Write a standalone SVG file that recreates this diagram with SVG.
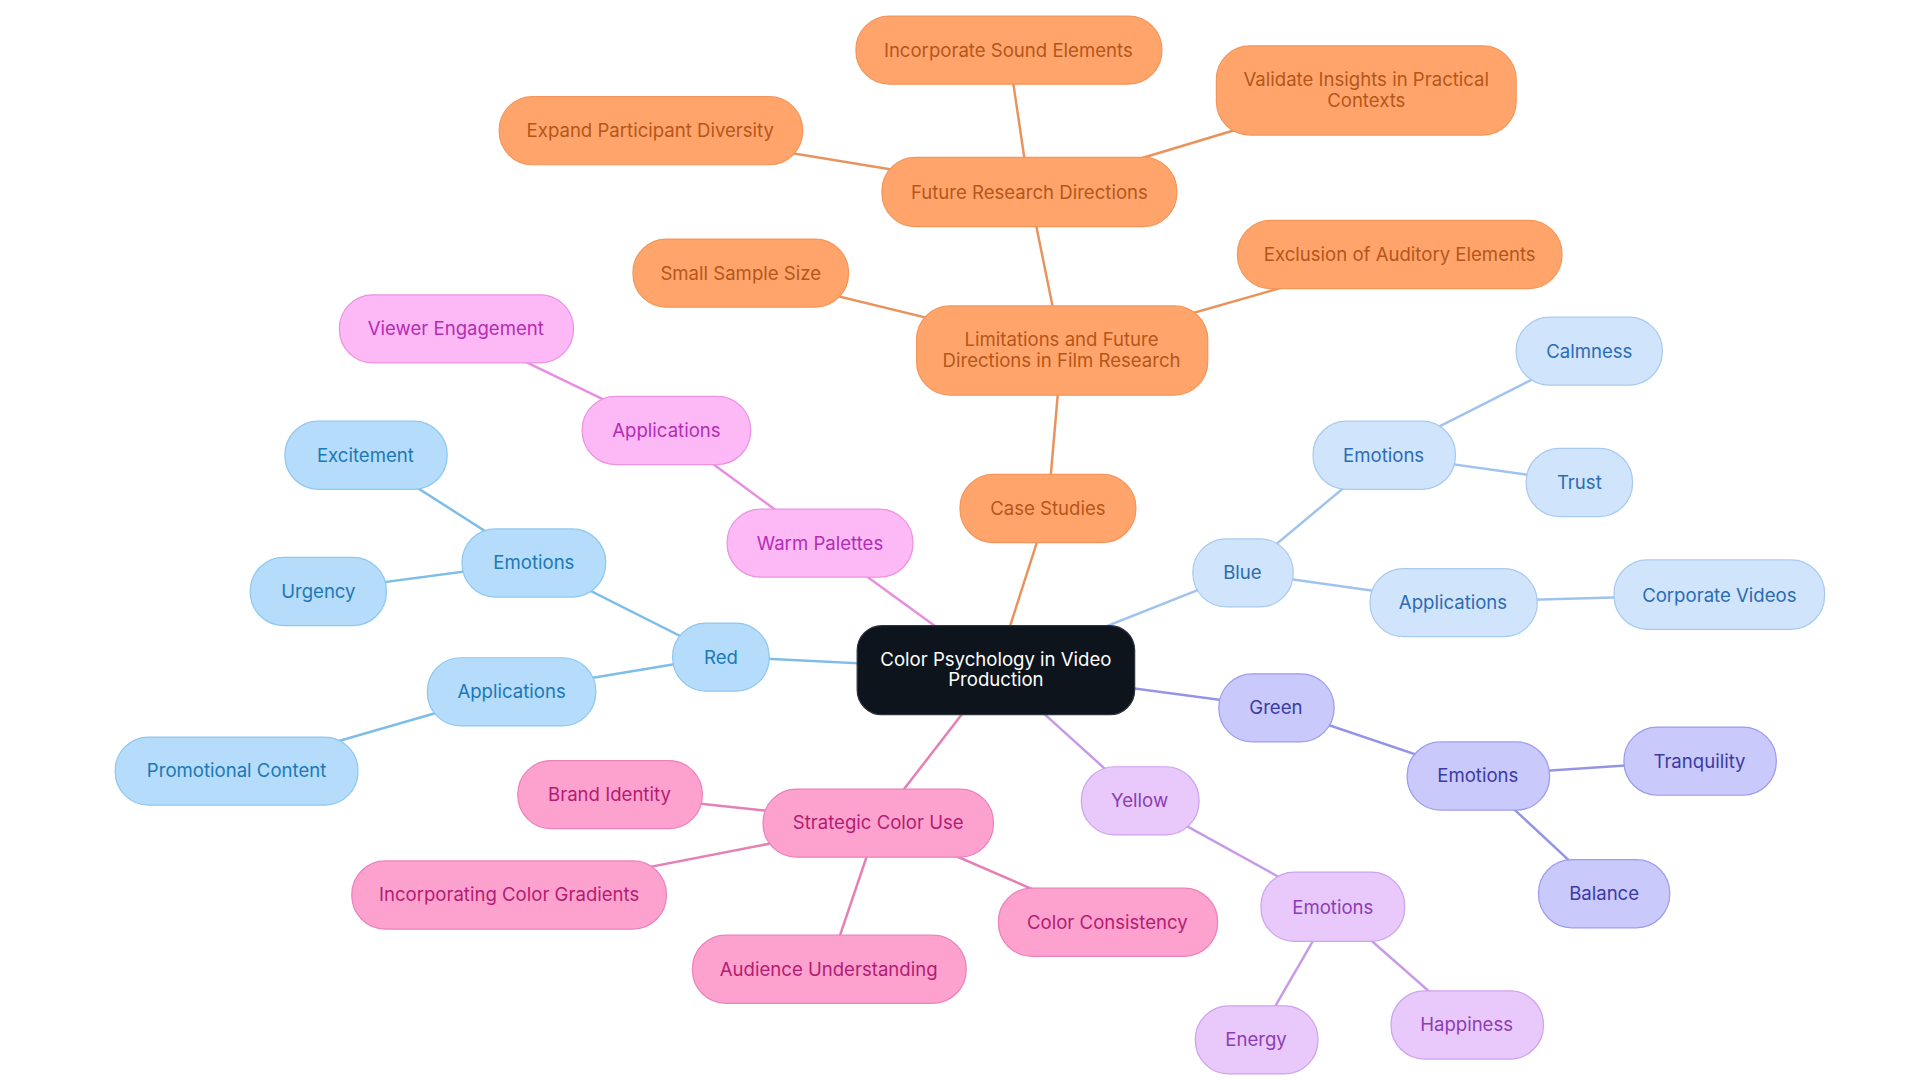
<svg xmlns="http://www.w3.org/2000/svg" width="1920" height="1083" viewBox="0 0 1920 1083">
<style>
text{font-family:Inter,"Noto Sans",sans-serif;font-size:15px;text-anchor:middle;dominant-baseline:central}
.c line{stroke-width:2;fill:none}
.o rect{fill:#ffa56c;stroke:#f5955a}.o text{fill:#b5561a}
.r rect{fill:#b5dcfb;stroke:#8ec8f0}.r text{fill:#1d78b5}
.b rect{fill:#d0e4fb;stroke:#a9caf0}.b text{fill:#2c6cb3}
.g rect{fill:#c9c9fb;stroke:#9c9cee}.g text{fill:#3b3ba3}
.y rect{fill:#e9c9fb;stroke:#cba3ee}.y text{fill:#8c3db3}
.w rect{fill:#fcb9f5;stroke:#ec92e1}.w text{fill:#b32db3}
.s rect{fill:#fda1cf;stroke:#ec82b9}.s text{fill:#b31c72}
.m rect{fill:#0d141c;stroke:#2a323c}.m text{fill:#fff}
rect{stroke-width:1}
</style>
<rect width="1920" height="1083" fill="#fff"/>
<g transform="scale(1.2387)">
<g class="c" id="connectors">
<g stroke="#e8935c">
<line x1="804" y1="541" x2="846" y2="410"/><line x1="846" y1="410" x2="857" y2="283"/>
<line x1="857" y1="283" x2="831" y2="155"/><line x1="831" y1="155" x2="814" y2="40"/>
<line x1="831" y1="155" x2="1103" y2="73"/><line x1="831" y1="155" x2="525" y2="105"/>
<line x1="857" y1="283" x2="598" y2="220"/><line x1="857" y1="283" x2="1130" y2="205"/>
</g>
<g stroke="#e88ee0">
<line x1="804" y1="541" x2="662" y2="438"/><line x1="662" y1="438" x2="538" y2="347"/><line x1="538" y1="347" x2="368" y2="265"/>
</g>
<g stroke="#7dbde8">
<line x1="804" y1="541" x2="582" y2="530"/><line x1="582" y1="530" x2="431" y2="454"/>
<line x1="431" y1="454" x2="295" y2="367"/><line x1="431" y1="454" x2="257" y2="477"/>
<line x1="582" y1="530" x2="413" y2="558"/><line x1="413" y1="558" x2="191" y2="622"/>
</g>
<g stroke="#9fc3ee">
<line x1="804" y1="541" x2="1003" y2="462"/><line x1="1003" y1="462" x2="1117" y2="367"/>
<line x1="1117" y1="367" x2="1283" y2="283"/><line x1="1117" y1="367" x2="1275" y2="389"/>
<line x1="1003" y1="462" x2="1173" y2="486"/><line x1="1173" y1="486" x2="1388" y2="480"/>
</g>
<g stroke="#9494e6">
<line x1="804" y1="541" x2="1030" y2="571"/><line x1="1030" y1="571" x2="1193" y2="626"/>
<line x1="1193" y1="626" x2="1372" y2="614"/><line x1="1193" y1="626" x2="1295" y2="721"/>
</g>
<g stroke="#c79ae8">
<line x1="804" y1="541" x2="920" y2="646"/><line x1="920" y1="646" x2="1076" y2="732"/>
<line x1="1076" y1="732" x2="1014" y2="839"/><line x1="1076" y1="732" x2="1184" y2="827"/>
</g>
<g stroke="#e57fb5">
<line x1="804" y1="541" x2="709" y2="664"/><line x1="709" y1="664" x2="492" y2="641"/>
<line x1="709" y1="664" x2="411" y2="722"/><line x1="709" y1="664" x2="669" y2="782"/>
<line x1="709" y1="664" x2="894" y2="744"/>
</g>
</g>
<g id="center" class="m"><rect x="692" y="505" width="224" height="72" rx="20"/><text x="804" y="532">Color Psychology in Video</text><text x="804" y="548">Production</text></g>
<g class="o">
<g id="case"><rect x="775" y="383" width="142" height="55" rx="27"/><text x="846" y="410">Case Studies</text></g>
<g id="limits"><rect x="740" y="247" width="235" height="72" rx="27"/><text x="857" y="274">Limitations and Future</text><text x="857" y="291">Directions in Film Research</text></g>
<g id="future"><rect x="712" y="127" width="238" height="56" rx="27"/><text x="831" y="155">Future Research Directions</text></g>
<g id="sound"><rect x="691" y="13" width="247" height="55" rx="27"/><text x="814" y="40">Incorporate Sound Elements</text></g>
<g id="validate"><rect x="982" y="37" width="242" height="72" rx="27"/><text x="1103" y="64">Validate Insights in Practical</text><text x="1103" y="81">Contexts</text></g>
<g id="expand"><rect x="403" y="78" width="245" height="55" rx="27"/><text x="525" y="105">Expand Participant Diversity</text></g>
<g id="sample"><rect x="511" y="193" width="174" height="55" rx="27"/><text x="598" y="220">Small Sample Size</text></g>
<g id="exclusion"><rect x="999" y="178" width="262" height="55" rx="27"/><text x="1130" y="205">Exclusion of Auditory Elements</text></g>
</g>
<g class="w">
<g id="warm"><rect x="587" y="411" width="150" height="55" rx="27"/><text x="662" y="438">Warm Palettes</text></g>
<g id="wapp"><rect x="470" y="320" width="136" height="55" rx="27"/><text x="538" y="347">Applications</text></g>
<g id="viewer"><rect x="274" y="238" width="189" height="55" rx="27"/><text x="368" y="265">Viewer Engagement</text></g>
</g>
<g class="r">
<g id="red"><rect x="543" y="503" width="78" height="55" rx="27"/><text x="582" y="530">Red</text></g>
<g id="remo"><rect x="373" y="427" width="116" height="55" rx="27"/><text x="431" y="454">Emotions</text></g>
<g id="excite"><rect x="230" y="340" width="131" height="55" rx="27"/><text x="295" y="367">Excitement</text></g>
<g id="urgency"><rect x="202" y="450" width="110" height="55" rx="27"/><text x="257" y="477">Urgency</text></g>
<g id="rapp"><rect x="345" y="531" width="136" height="55" rx="27"/><text x="413" y="558">Applications</text></g>
<g id="promo"><rect x="93" y="595" width="196" height="55" rx="27"/><text x="191" y="622">Promotional Content</text></g>
</g>
<g class="b">
<g id="blue"><rect x="963" y="435" width="81" height="55" rx="27"/><text x="1003" y="462">Blue</text></g>
<g id="bemo"><rect x="1060" y="340" width="115" height="55" rx="27"/><text x="1117" y="367">Emotions</text></g>
<g id="calm"><rect x="1224" y="256" width="118" height="55" rx="27"/><text x="1283" y="283">Calmness</text></g>
<g id="trust"><rect x="1232" y="362" width="86" height="55" rx="27"/><text x="1275" y="389">Trust</text></g>
<g id="bapp"><rect x="1106" y="459" width="135" height="55" rx="27"/><text x="1173" y="486">Applications</text></g>
<g id="corp"><rect x="1303" y="452" width="170" height="56" rx="27"/><text x="1388" y="480">Corporate Videos</text></g>
</g>
<g class="g">
<g id="green"><rect x="984" y="544" width="93" height="55" rx="27"/><text x="1030" y="571">Green</text></g>
<g id="gemo"><rect x="1136" y="599" width="115" height="55" rx="27"/><text x="1193" y="626">Emotions</text></g>
<g id="tranq"><rect x="1311" y="587" width="123" height="55" rx="27"/><text x="1372" y="614">Tranquility</text></g>
<g id="balance"><rect x="1242" y="694" width="106" height="55" rx="27"/><text x="1295" y="721">Balance</text></g>
</g>
<g class="y">
<g id="yellow"><rect x="873" y="619" width="95" height="55" rx="27"/><text x="920" y="646">Yellow</text></g>
<g id="yemo"><rect x="1018" y="704" width="116" height="56" rx="27"/><text x="1076" y="732">Emotions</text></g>
<g id="energy"><rect x="965" y="812" width="99" height="55" rx="27"/><text x="1014" y="839">Energy</text></g>
<g id="happy"><rect x="1123" y="800" width="123" height="55" rx="27"/><text x="1184" y="827">Happiness</text></g>
</g>
<g class="s">
<g id="strategic"><rect x="616" y="637" width="186" height="55" rx="27"/><text x="709" y="664">Strategic Color Use</text></g>
<g id="brand"><rect x="418" y="614" width="149" height="55" rx="27"/><text x="492" y="641">Brand Identity</text></g>
<g id="gradients"><rect x="284" y="695" width="254" height="55" rx="27"/><text x="411" y="722">Incorporating Color Gradients</text></g>
<g id="audience"><rect x="559" y="755" width="221" height="55" rx="27"/><text x="669" y="782">Audience Understanding</text></g>
<g id="consist"><rect x="806" y="717" width="177" height="55" rx="27"/><text x="894" y="744">Color Consistency</text></g>
</g>
</g>
</svg>
